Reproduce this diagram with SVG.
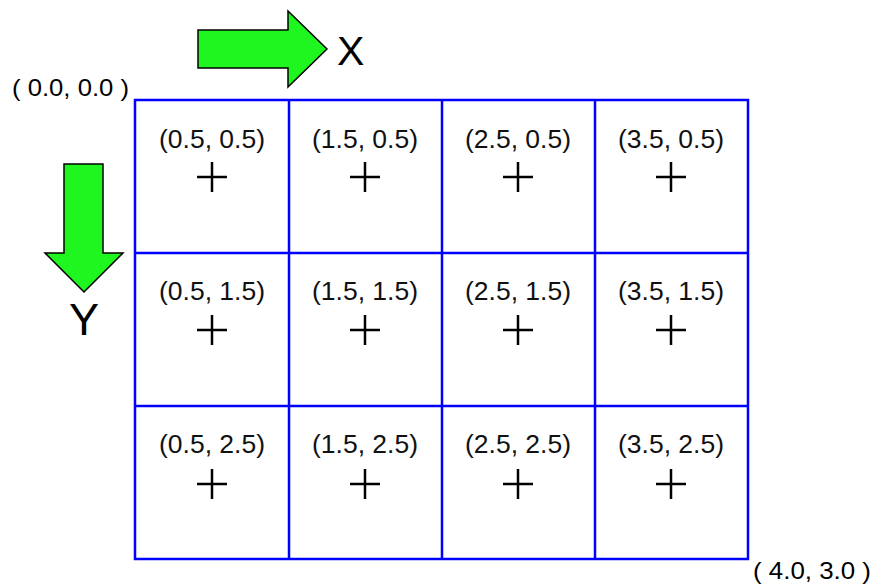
<svg xmlns="http://www.w3.org/2000/svg" width="873" height="585" viewBox="0 0 873 585">
<style>
.lbl{font-family:"Liberation Sans",Arial,sans-serif;font-size:25px;fill:#111;text-anchor:middle}
.ax{font-family:"Liberation Sans",Arial,sans-serif;fill:#000}
.grid{fill:none;stroke:#0000ff;stroke-width:2.5}
.plus{stroke:#000;stroke-width:2.5}
.arrow{fill:#1ff51f;stroke:#000;stroke-width:1.5;stroke-linejoin:miter}
</style>
<defs>
<path id="p" class="plus" d="M-15 0H15M0 -15V15"/>
</defs>
<rect width="873" height="585" fill="#fff"/>
<g id="x-axis">
<polygon class="arrow" points="198,30 288,30 288,11 327,49 288,87 288,68 198,68"/>
<text class="ax" x="337" y="65" font-size="41">X</text>
</g>
<g id="y-axis">
<polygon class="arrow" points="64,164 103,164 103,253 123,253 84,292 45,253 64,253"/>
<text class="ax" x="84" y="335" font-size="45" text-anchor="middle">Y</text>
</g>
<g id="origin"><text class="ax" x="12" y="96" font-size="24" textLength="117" lengthAdjust="spacingAndGlyphs">( 0.0, 0.0 )</text></g>
<g id="corner"><text class="ax" x="753" y="579" font-size="24" textLength="118" lengthAdjust="spacingAndGlyphs">( 4.0, 3.0 )</text></g>
<g id="grid" class="grid">
<rect x="135" y="100" width="613" height="459"/>
<path d="M289 100V559M442 100V559M595 100V559M135 253H748M135 406H748"/>
</g>
<g id="cell-0-0"><text class="lbl" x="212" y="148" textLength="106" lengthAdjust="spacingAndGlyphs">(0.5, 0.5)</text><use href="#p" x="212" y="177"/></g>
<g id="cell-1-0"><text class="lbl" x="365" y="148" textLength="106" lengthAdjust="spacingAndGlyphs">(1.5, 0.5)</text><use href="#p" x="365" y="177"/></g>
<g id="cell-2-0"><text class="lbl" x="518" y="148" textLength="106" lengthAdjust="spacingAndGlyphs">(2.5, 0.5)</text><use href="#p" x="518" y="177"/></g>
<g id="cell-3-0"><text class="lbl" x="671" y="148" textLength="106" lengthAdjust="spacingAndGlyphs">(3.5, 0.5)</text><use href="#p" x="671" y="177"/></g>
<g id="cell-0-1"><text class="lbl" x="212" y="300" textLength="106" lengthAdjust="spacingAndGlyphs">(0.5, 1.5)</text><use href="#p" x="212" y="330"/></g>
<g id="cell-1-1"><text class="lbl" x="365" y="300" textLength="106" lengthAdjust="spacingAndGlyphs">(1.5, 1.5)</text><use href="#p" x="365" y="330"/></g>
<g id="cell-2-1"><text class="lbl" x="518" y="300" textLength="106" lengthAdjust="spacingAndGlyphs">(2.5, 1.5)</text><use href="#p" x="518" y="330"/></g>
<g id="cell-3-1"><text class="lbl" x="671" y="300" textLength="106" lengthAdjust="spacingAndGlyphs">(3.5, 1.5)</text><use href="#p" x="671" y="330"/></g>
<g id="cell-0-2"><text class="lbl" x="212" y="453" textLength="106" lengthAdjust="spacingAndGlyphs">(0.5, 2.5)</text><use href="#p" x="212" y="484"/></g>
<g id="cell-1-2"><text class="lbl" x="365" y="453" textLength="106" lengthAdjust="spacingAndGlyphs">(1.5, 2.5)</text><use href="#p" x="365" y="484"/></g>
<g id="cell-2-2"><text class="lbl" x="518" y="453" textLength="106" lengthAdjust="spacingAndGlyphs">(2.5, 2.5)</text><use href="#p" x="518" y="484"/></g>
<g id="cell-3-2"><text class="lbl" x="671" y="453" textLength="106" lengthAdjust="spacingAndGlyphs">(3.5, 2.5)</text><use href="#p" x="671" y="484"/></g>
</svg>
